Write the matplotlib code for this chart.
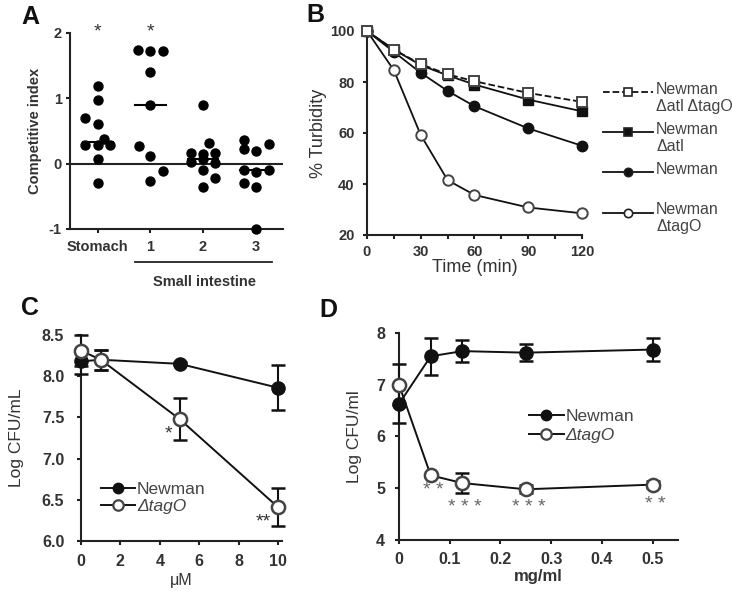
import numpy as np
import matplotlib
matplotlib.use("Agg")
import matplotlib.pyplot as plt
from matplotlib.lines import Line2D

plt.rcParams['font.family'] = ['Liberation Sans', 'DejaVu Sans']
plt.rcParams['axes.unicode_minus'] = False

# ---- Panel A: competitive index ----
cats = ["Stomach", "1", "2", "3"]
ci_vals = [
    [1.19, 0.98, 0.70, 0.60, 0.37, 0.28, 0.28, 0.28, 0.07, -0.30],
    [1.74, 1.73, 1.73, 1.40, 0.90, 0.27, 0.11, -0.11, -0.27],
    [0.90, 0.32, 0.17, 0.15, 0.17, 0.02, 0.07, 0.01, -0.10, -0.22, -0.36],
    [0.36, 0.22, 0.20, 0.30, -0.10, -0.12, -0.10, -0.29, -0.35, -1.0],
]
ci_jitter = [
    [0, 0, -0.24, 0, 0.11, -0.24, 0, 0.24, 0, 0],
    [-0.24, 0, 0.24, 0, 0, -0.22, 0, 0.24, 0],
    [0, 0.12, -0.22, 0, 0.22, -0.22, 0, 0.22, 0, 0.22, 0],
    [-0.22, -0.22, 0, 0.26, -0.22, 0, 0.26, -0.22, 0, 0],
]
ci_stars = ["*", "*", "", ""]

# ---- Panel B: turbidity ----
time_min = [0, 15, 30, 45, 60, 90, 120]
turb_atl_tago = [100, 92.7, 87.0, 83.0, 80.3, 75.7, 72.2]
turb_atl = [100, 92.7, 86.6, 82.6, 79.0, 73.1, 68.5]
turb_newman = [100, 91.8, 83.6, 76.5, 70.5, 61.8, 55.0]
turb_tago = [100, 84.6, 59.2, 41.5, 35.7, 30.8, 28.5]

# ---- Panel C ----
conc_um = [0, 1, 5, 10]
c_newman = [8.18, 8.20, 8.15, 7.86]
c_newman_err = [0.15, 0.12, 0.02, 0.27]
c_tago = [8.31, 8.20, 7.48, 6.41]
c_tago_err = [0.19, 0.12, 0.26, 0.23]
c_stars = ["", "", "*", "**"]

# ---- Panel D ----
conc_mg = [0, 0.0625, 0.125, 0.25, 0.5]
d_newman = [6.63, 7.55, 7.65, 7.62, 7.68]
d_newman_err = [0.37, 0.36, 0.22, 0.16, 0.22]
d_tago = [7.00, 5.25, 5.10, 4.98, 5.07]
d_tago_err = [0.40, 0.03, 0.19, 0.08, 0.07]
d_stars = ["", "* *", "* * *", "* * *", "* *"]
d_star_y = [0, 4.95, 4.62, 4.62, 4.68]

txt = '#333333'
fig = plt.figure(figsize=(7.32, 5.99), dpi=100)


def style(ax, pad=5):
    for s in ['top', 'right']:
        ax.spines[s].set_visible(False)
    for s in ['left', 'bottom']:
        ax.spines[s].set_linewidth(1.5)
        ax.spines[s].set_color('#222222')
    ax.tick_params(direction='out', length=3, width=1.5, color='#222222',
                   labelcolor=txt, pad=pad)
    for lab in ax.get_xticklabels() + ax.get_yticklabels():
        lab.set_fontweight('bold')


def legend_handles():
    return [Line2D([], [], color='#111111', lw=1.4, marker='o', ms=7.5,
                   mfc='#111111', mec='#111111'),
            Line2D([], [], color='#111111', lw=1.4, marker='o', ms=7.5,
                   mfc='white', mec='#444444', mew=1.6)]


# ================= A =================
axA = fig.add_axes([70/732, 1-229/599, 213/732, 196/599])
for i, (vals, jit) in enumerate(zip(ci_vals, ci_jitter)):
    axA.scatter(np.array(jit) + i, vals, s=42, color='black', zorder=3, clip_on=False)
    med = np.median(vals)
    axA.plot([i - 0.29, i + 0.29], [med, med], color='black', lw=1.5, zorder=2)
    if ci_stars[i]:
        axA.text(i, 2.02, ci_stars[i], ha='center', va='center', fontsize=14,
                 color=txt, clip_on=False)
axA.axhline(0, color='#222222', lw=1.5)
axA.set_xlim(-0.53, 3.52)
axA.set_ylim(-1, 2)
axA.set_yticks([-1, 0, 1, 2])
axA.set_xticks(range(4))
axA.set_xticklabels(cats, fontsize=10.5)
axA.tick_params(axis='y', labelsize=10.5)
axA.set_ylabel("Competitive index", fontsize=10.5, fontweight='bold', color=txt)
style(axA)
axA.tick_params(axis='y', pad=3)
axA.yaxis.set_label_coords(-0.13, 0.5)
axA.plot([0.70, 3.32], [-0.17, -0.17], transform=axA.get_xaxis_transform(),
         color='#222222', lw=1.3, clip_on=False)
axA.text(2.03, -0.27, "Small intestine", transform=axA.get_xaxis_transform(),
         ha='center', va='center', fontsize=10.5, fontweight='bold', color=txt)

# ================= B =================
axB = fig.add_axes([367/732, 1-235/599, 215/732, 204/599])
axB.plot(time_min, turb_tago, '-o', color='#111111', mfc='white', mec='#444444',
         mew=1.4, ms=7.5, lw=1.3, clip_on=False, zorder=3)
axB.plot(time_min, turb_newman, '-o', color='#111111', ms=7.5, lw=1.3, clip_on=False, zorder=3)
axB.plot(time_min, turb_atl, '-s', color='#111111', ms=7.5, lw=1.3, clip_on=False, zorder=3)
axB.plot(time_min, turb_atl_tago, '--s', color='#111111', mfc='white', mec='#444444',
         mew=1.4, ms=7.5, lw=1.3, clip_on=False, zorder=4)
axB.set_xlim(0, 120)
axB.set_ylim(20, 100)
axB.set_xticks([0, 30, 60, 90, 120])
axB.set_xticks([15, 45, 75, 105], minor=True)
axB.set_yticks([20, 40, 60, 80, 100])
axB.tick_params(labelsize=10.5)
axB.set_xlabel("Time (min)", fontsize=13, color=txt, labelpad=0)
axB.set_ylabel("% Turbidity", fontsize=13, color=txt)
style(axB)
axB.tick_params(which='minor', direction='out', length=3, width=1.5, color='#222222')
axB.tick_params(axis='x', pad=4)
axB.tick_params(axis='y', pad=6)
axB.yaxis.set_label_coords(-0.185, 0.5)

leg_entries = [
    ("Newman\n\u0394atl \u0394tagO", '--', 's', 'white', 0.70),
    ("Newman\n\u0394atl", '-', 's', '#111111', 0.505),
    ("Newman", '-', 'o', '#111111', 0.31),
    ("Newman\n\u0394tagO", '-', 'o', 'white', 0.11),
]
for lab, ls, mk, fc, yy in leg_entries:
    axB.plot([1.10, 1.33], [yy, yy], ls=ls, color='#111111', lw=1.3,
             transform=axB.transAxes, clip_on=False)
    axB.plot([1.215], [yy], marker=mk, ms=6, mfc=fc, mec='#222222', mew=1.2,
             transform=axB.transAxes, clip_on=False)
    axB.text(1.345, yy + 0.05, lab, transform=axB.transAxes, ha='left', va='top',
             fontsize=11.5, color='#444444', linespacing=1.15)

# ================= C =================
axC = fig.add_axes([81/732, 1-541/599, 201/732, 206/599])
axC.errorbar(conc_um, c_newman, yerr=c_newman_err, fmt='-o', color='#111111',
             ms=9.5, lw=1.4, elinewidth=1.5, capsize=5, capthick=1.8,
             clip_on=False, zorder=3)
axC.errorbar(conc_um, c_tago, yerr=c_tago_err, fmt='-o', color='#111111',
             mfc='white', mec='#444444', mew=1.8, ms=9.5, lw=1.4, elinewidth=1.5,
             capsize=5, capthick=1.8, clip_on=False, zorder=4)
for x, y, s in zip(conc_um, c_tago, c_stars):
    if s:
        axC.text(x - 0.35, y - 0.18, s, ha='right', va='center', fontsize=14, color=txt)
axC.set_xlim(0, 10.2)
axC.set_ylim(6.0, 8.5)
axC.set_xticks([0, 2, 4, 6, 8, 10])
axC.set_yticks([6.0, 6.5, 7.0, 7.5, 8.0, 8.5])
axC.set_yticklabels(["6.0", "6.5", "7.0", "7.5", "8.0", "8.5"])
axC.tick_params(labelsize=11.5)
axC.set_xlabel("\u03bcM", fontsize=11.5, color=txt, labelpad=3)
axC.set_ylabel("Log CFU/mL", fontsize=12.5, color=txt)
style(axC, pad=6)
axC.tick_params(axis='y', pad=9)
axC.yaxis.set_label_coords(-0.285, 0.5)
legC = axC.legend(legend_handles(), ["Newman", "\u0394tagO"], loc='center left',
                  bbox_to_anchor=(0.02, 0.21), frameon=False, fontsize=12.5,
                  handlelength=2.0, handletextpad=0.1, labelspacing=0.1)
for t in legC.get_texts():
    t.set_color('#444444')
legC.get_texts()[1].set_style('italic')

# ================= D =================
axD = fig.add_axes([399/732, 1-540/599, 279/732, 207/599])
axD.errorbar(conc_mg, d_newman, yerr=d_newman_err, fmt='-o', color='#111111',
             ms=9.5, lw=1.4, elinewidth=1.5, capsize=5, capthick=1.8,
             clip_on=False, zorder=3)
axD.errorbar(conc_mg, d_tago, yerr=d_tago_err, fmt='-o', color='#111111',
             mfc='white', mec='#444444', mew=1.8, ms=9.5, lw=1.4, elinewidth=1.5,
             capsize=5, capthick=1.8, clip_on=False, zorder=4)
for x, sy, s in zip(conc_mg, d_star_y, d_stars):
    if s:
        axD.text(x + 0.005, sy, s, ha='center', va='center', fontsize=14,
                 color='#666666')
axD.set_xlim(0, 0.55)
axD.set_ylim(4, 8)
axD.set_xticks([0, 0.1, 0.2, 0.3, 0.4, 0.5])
axD.set_xticklabels(["0", "0.1", "0.2", "0.3", "0.4", "0.5"])
axD.set_yticks([4, 5, 6, 7, 8])
axD.tick_params(labelsize=11.5)
axD.set_xlabel("mg/ml", fontsize=12, fontweight='bold', color=txt, labelpad=1)
axD.set_ylabel("Log CFU/ml", fontsize=12.5, color=txt)
style(axD, pad=6)
axD.tick_params(axis='y', pad=7)
axD.yaxis.set_label_coords(-0.133, 0.5)
legD = axD.legend(legend_handles(), ["Newman", "\u0394tagO"], loc='center left',
                  bbox_to_anchor=(0.41, 0.55), frameon=False, fontsize=12.5,
                  handlelength=2.0, handletextpad=0.1, labelspacing=0.25)
for t in legD.get_texts():
    t.set_color('#444444')
legD.get_texts()[1].set_style('italic')

# panel letters
for lbl, x, y in [("A", 30, 17), ("B", 315, 15), ("C", 30, 308), ("D", 328, 310)]:
    fig.text(x/732, 1-y/599, lbl, fontsize=18, fontweight='bold', color='#111111',
             ha='center', va='center')

fig.savefig("out.png", dpi=100, facecolor='white')
